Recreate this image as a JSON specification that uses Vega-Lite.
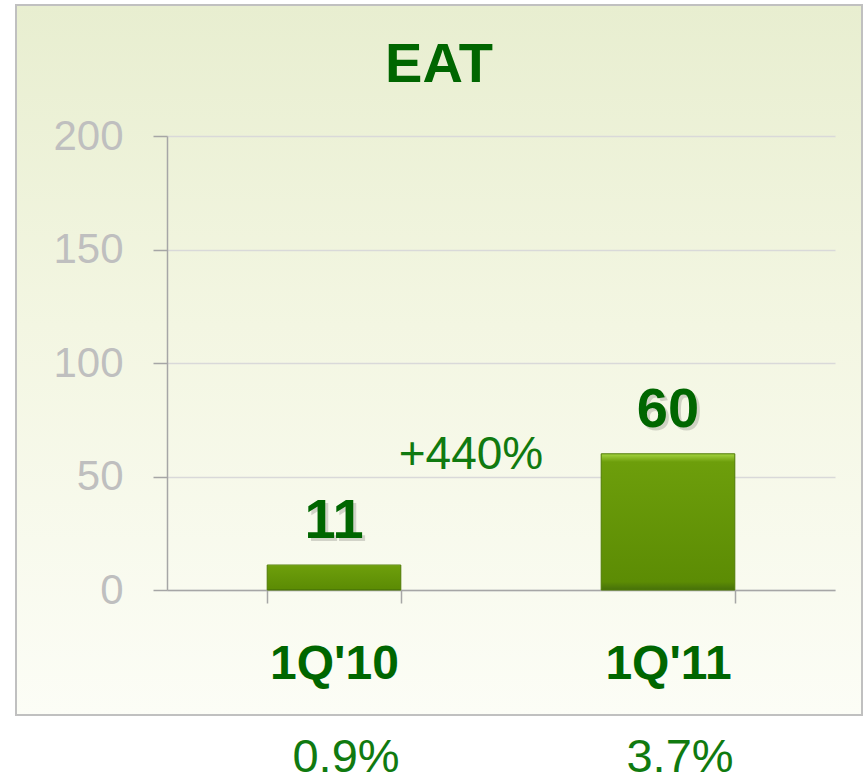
{
  "$schema": "https://vega.github.io/schema/vega-lite/v6.json",
  "autosize": "none",
  "width": 846,
  "height": 710,
  "padding": {"left": 16, "top": 5, "right": 6, "bottom": 62},
  "background": "#ffffff",
  "config": {
    "font": "Liberation Sans",
    "view": {
      "stroke": "#c0c0c0",
      "strokeWidth": 2,
      "fill": {
        "gradient": "linear", "x1": 0, "y1": 0, "x2": 0, "y2": 1,
        "stops": [
          {"offset": 0, "color": "#e8eed0"},
          {"offset": 0.45, "color": "#f3f6e2"},
          {"offset": 1, "color": "#fcfdf6"}
        ]
      }
    }
  },
  "title": {
    "text": "EAT",
    "fontSize": 56,
    "fontWeight": "bold",
    "color": "#006600",
    "anchor": "middle",
    "frame": "group",
    "baseline": "alphabetic",
    "offset": 0,
    "dy": 133,
    "font": "Liberation Sans"
  },
  "data": {
    "values": [
      {"quarter": "1Q'10", "eat": 11, "margin": "0.9%"},
      {"quarter": "1Q'11", "eat": 60, "margin": "3.7%"}
    ]
  },
  "encoding": {
    "x": {
      "field": "quarter",
      "type": "nominal",
      "sort": null,
      "scale": {"range": [151, 819], "paddingInner": 0.6, "paddingOuter": 0.3},
      "axis": {
        "orient": "bottom",
        "offset": -125,
        "title": null,
        "tickBand": "extent",
        "tickSize": 13,
        "labelFontSize": 48,
        "labelFontWeight": "bold",
        "labelColor": "#006600",
        "labelPadding": 37,
        "labelAngle": 0,
        "domainColor": "#a6a6a6",
        "tickColor": "#a6a6a6",
        "domainWidth": 1.5,
        "tickWidth": 1.5,
        "grid": false
      }
    }
  },
  "layer": [
    {
      "mark": {
        "type": "bar",
        "fill": {
          "gradient": "linear", "x1": 0, "y1": 0, "x2": 0, "y2": 1,
          "stops": [
            {"offset": 0, "color": "#a4d441"},
            {"offset": 0.06, "color": "#6d9e0b"},
            {"offset": 0.94, "color": "#5c8c04"},
            {"offset": 1, "color": "#46700a"}
          ]
        },
        "stroke": "#4f7a04",
        "strokeWidth": 1
      },
      "encoding": {
        "y": {
          "field": "eat",
          "type": "quantitative",
          "scale": {"domain": [0, 200], "range": [585, 131], "nice": false},
          "axis": {
            "values": [0, 50, 100, 150, 200],
            "offset": -151,
            "title": null,
            "labelFontSize": 42,
            "labelColor": "#bfbfbf",
            "labelPadding": 30,
            "tickSize": 14,
            "tickColor": "#a6a6a6",
            "domainColor": "#a6a6a6",
            "domainWidth": 1.5,
            "tickWidth": 1.5,
            "grid": true,
            "gridColor": "#d9d9d9",
            "gridWidth": 1.5
          }
        }
      }
    },
    {
      "mark": {"type": "text", "fontSize": 56, "fontWeight": "bold", "color": "#000000", "opacity": 0.15, "baseline": "alphabetic", "dx": 3, "dy": -24},
      "encoding": {
        "y": {"field": "eat", "type": "quantitative"},
        "text": {"field": "eat", "type": "quantitative"}
      }
    },
    {
      "mark": {"type": "text", "fontSize": 56, "fontWeight": "bold", "color": "#006600", "baseline": "alphabetic", "dy": -27},
      "encoding": {
        "y": {"field": "eat", "type": "quantitative"},
        "text": {"field": "eat", "type": "quantitative"}
      }
    },
    {
      "mark": {"type": "text", "fontSize": 47, "color": "#107a10", "baseline": "alphabetic", "dx": 12, "dy": 182},
      "encoding": {
        "y": {"datum": 0},
        "text": {"field": "margin", "type": "nominal"}
      }
    },
    {
      "data": {"values": [{"label": "+440%"}]},
      "mark": {"type": "text", "fontSize": 46, "color": "#107a10", "baseline": "alphabetic", "dx": 137, "dy": -8},
      "encoding": {
        "x": {"datum": "1Q'10"},
        "y": {"datum": 50},
        "text": {"field": "label", "type": "nominal"}
      }
    }
  ]
}
